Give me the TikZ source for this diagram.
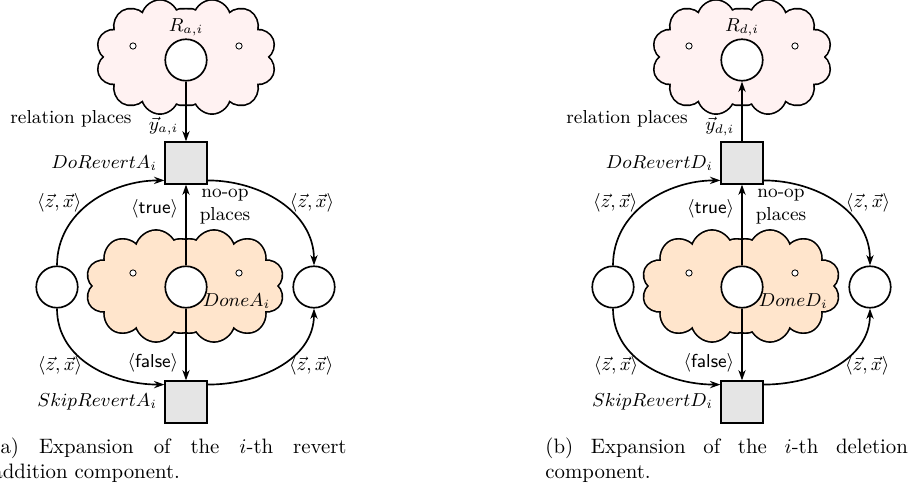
\documentclass[tikz,border=0pt]{standalone}
\usepackage{amsmath,amssymb}
\usepackage{tikz}
\usetikzlibrary{arrows.meta,shapes.symbols,positioning}
\tikzset{
  place/.style={circle,draw,thick,fill=white,minimum size=7mm,inner sep=0pt},
  trans/.style={rectangle,draw,thick,fill=gray!20,minimum size=7mm,inner sep=0pt},
  dotplace/.style={circle,draw,fill=white,minimum size=3pt,inner sep=0pt},
  puff/.style={cloud,cloud puffs=10,cloud ignores aspect,inner sep=0pt},
  relpuff/.style={puff,minimum width=61pt,minimum height=54pt},
  nooppuff/.style={puff,minimum width=67pt,minimum height=53pt},
  rim/.style={draw,line width=1.6pt,line join=round},
  flow/.style={-{Stealth[length=5pt,width=3.5pt]},thick},
  caption/.style={font=\normalsize,align=justify,anchor=base west,inner sep=0pt}
}

\begin{document}
\begin{tikzpicture}[x=0.48pt,y=-0.48pt,font=\small]
  \useasboundingbox (0,0) rectangle (914,494);

  % (a) revert addition
  \node[relpuff,rim] (a-relrim-l) at (160,57) {};
  \node[relpuff,rim] (a-relrim-r) at (212,57) {};
  \node[relpuff,fill=red!5] (a-relcloud-l) at (160,57) {};
  \node[relpuff,fill=red!5] (a-relcloud-r) at (212,57) {};
  \node[nooppuff,rim] (a-nooprim-l) at (156,286) {};
  \node[nooppuff,rim] (a-nooprim-r) at (214,286) {};
  \node[nooppuff,fill=orange!20] (a-noopcloud-l) at (156,286) {};
  \node[nooppuff,fill=orange!20] (a-noopcloud-r) at (214,286) {};
  \node[dotplace] (a-rel-l) at (133,46) {};
  \node[dotplace] (a-rel-r) at (239,46) {};
  \node[place,label={[inner sep=1pt]above:$R_{a,i}$}] (a-rel) at (186,60) {};
  \node (a-rellbl) at (71,119) {relation places};
  \node[dotplace] (a-noop-l) at (133,273) {};
  \node[dotplace] (a-noop-r) at (239,273) {};
  \node[place,label={[anchor=west,inner sep=0pt]-40:$DoneA_i$}] (a-done) at (186,287) {};
  \node[align=center] (a-nooplbl) at (225,207) {no-op\\places};
  \node[trans,label=left:$DoRevertA_i$] (a-dorev) at (186,163) {};
  \node[trans,label=left:$SkipRevertA_i$] (a-skip) at (186,402) {};
  \node[place] (a-in) at (57,287) {};
  \node[place] (a-out) at (314,287) {};

  \draw[flow] (a-rel) -- node[pos=.75,left] {$\vec{y}_{a,i}$} (a-dorev);
  \draw[flow] (a-done) -- node[pos=.7,left] {$\langle\textsf{true}\rangle$} (a-dorev);
  \draw[flow] (a-done) -- node[pos=.75,left] {$\langle\textsf{false}\rangle$} (a-skip);
  \draw[flow] (a-in) to[out=90,in=180]
    node[pos=.5,left=4pt,inner sep=0pt] {$\langle\vec{z},\vec{x}\rangle$}
    ([yshift=2pt]a-dorev.south west);
  \draw[flow] ([yshift=2pt]a-dorev.south east) to[out=0,in=90]
    node[pos=.5,right=4pt,inner sep=0pt] {$\langle\vec{z},\vec{x}\rangle$} (a-out);
  \draw[flow] (a-in) to[out=-90,in=180]
    node[pos=.5,left=4pt,inner sep=0pt] {$\langle\vec{z},\vec{x}\rangle$}
    ([yshift=-2pt]a-skip.north west);
  \draw[flow] ([yshift=-2pt]a-skip.north east) to[out=0,in=-90]
    node[pos=.5,right=4pt,inner sep=0pt] {$\langle\vec{z},\vec{x}\rangle$} (a-out);

  \node[caption,text width=170pt] (a-cap) at (-8,454)
    {(a) Expansion of the $i$-th revert\linebreak addition component.};

  % (b) deletion
  \node[relpuff,rim] (b-relrim-l) at (716,57) {};
  \node[relpuff,rim] (b-relrim-r) at (768,57) {};
  \node[relpuff,fill=red!5] (b-relcloud-l) at (716,57) {};
  \node[relpuff,fill=red!5] (b-relcloud-r) at (768,57) {};
  \node[nooppuff,rim] (b-nooprim-l) at (712,286) {};
  \node[nooppuff,rim] (b-nooprim-r) at (770,286) {};
  \node[nooppuff,fill=orange!20] (b-noopcloud-l) at (712,286) {};
  \node[nooppuff,fill=orange!20] (b-noopcloud-r) at (770,286) {};
  \node[dotplace] (b-rel-l) at (689,46) {};
  \node[dotplace] (b-rel-r) at (795,46) {};
  \node[place,label={[inner sep=1pt]above:$R_{d,i}$}] (b-rel) at (742,60) {};
  \node (b-rellbl) at (627,119) {relation places};
  \node[dotplace] (b-noop-l) at (689,273) {};
  \node[dotplace] (b-noop-r) at (795,273) {};
  \node[place,label={[anchor=west,inner sep=0pt]-40:$DoneD_i$}] (b-done) at (742,287) {};
  \node[align=center] (b-nooplbl) at (781,207) {no-op\\places};
  \node[trans,label=left:$DoRevertD_i$] (b-dorev) at (742,163) {};
  \node[trans,label=left:$SkipRevertD_i$] (b-skip) at (742,402) {};
  \node[place] (b-in) at (613,287) {};
  \node[place] (b-out) at (870,287) {};

  \draw[flow] (b-dorev) -- node[pos=.25,left] {$\vec{y}_{d,i}$} (b-rel);
  \draw[flow] (b-done) -- node[pos=.7,left] {$\langle\textsf{true}\rangle$} (b-dorev);
  \draw[flow] (b-done) -- node[pos=.75,left] {$\langle\textsf{false}\rangle$} (b-skip);
  \draw[flow] (b-in) to[out=90,in=180]
    node[pos=.5,left=4pt,inner sep=0pt] {$\langle\vec{z},\vec{x}\rangle$}
    ([yshift=2pt]b-dorev.south west);
  \draw[flow] ([yshift=2pt]b-dorev.south east) to[out=0,in=90]
    node[pos=.5,right=4pt,inner sep=0pt] {$\langle\vec{z},\vec{x}\rangle$} (b-out);
  \draw[flow] (b-in) to[out=-90,in=180]
    node[pos=.5,left=4pt,inner sep=0pt] {$\langle\vec{z},\vec{x}\rangle$}
    ([yshift=-2pt]b-skip.north west);
  \draw[flow] ([yshift=-2pt]b-skip.north east) to[out=0,in=-90]
    node[pos=.5,right=4pt,inner sep=0pt] {$\langle\vec{z},\vec{x}\rangle$} (b-out);

  \node[caption,text width=174pt] (b-cap) at (545,454)
    {(b) Expansion of the $i$-th deletion\linebreak component.};
\end{tikzpicture}
\end{document}
